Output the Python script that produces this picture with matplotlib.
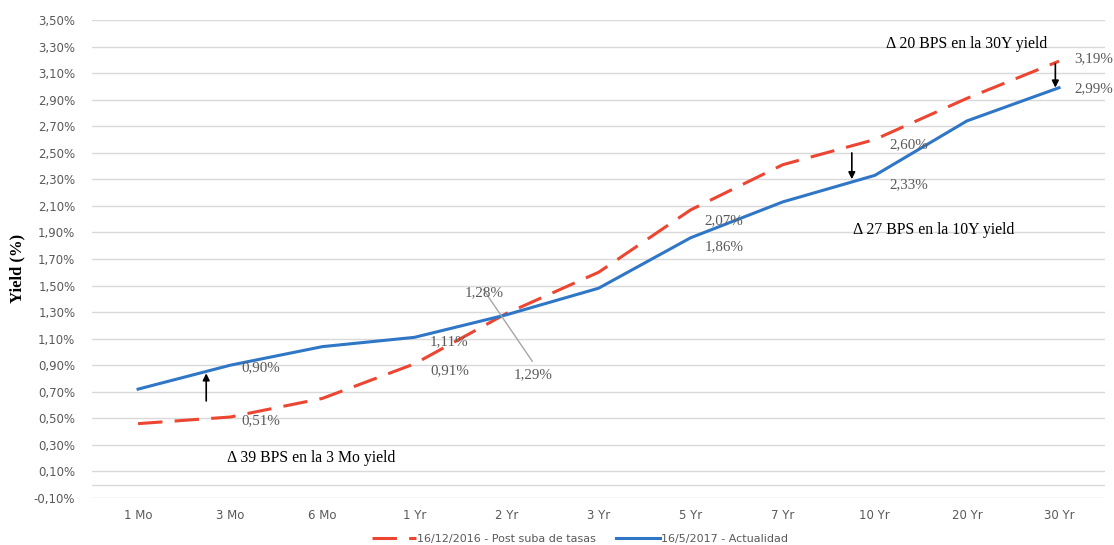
import matplotlib.pyplot as plt
from matplotlib.ticker import FuncFormatter

# Curva de rendimientos del Tesoro: dos fechas
plazos = ["1 Mo", "3 Mo", "6 Mo", "1 Yr", "2 Yr", "3 Yr", "5 Yr", "7 Yr", "10 Yr", "20 Yr", "30 Yr"]
post_suba = [0.46, 0.51, 0.65, 0.91, 1.29, 1.60, 2.07, 2.41, 2.60, 2.91, 3.19]
actualidad = [0.72, 0.90, 1.04, 1.11, 1.28, 1.48, 1.86, 2.13, 2.33, 2.74, 2.99]
serie_post = "16/12/2016 - Post suba de tasas"
serie_act = "16/5/2017 - Actualidad"

rojo = "#EC4632"
azul = "#2F77C6"
gris = "#595959"
serif = ["Liberation Serif"]


def pct(v):
    return f"{v:.2f}%".replace(".", ",")


fig = plt.figure(figsize=(11.14, 5.45), dpi=100)
ax = fig.add_axes([0.0826, 0.0862, 0.9094, 0.8771])

x = list(range(len(plazos)))
ax.plot(x, post_suba, color=rojo, lw=2.2, dashes=(8, 4), label=serie_post)
ax.plot(x, actualidad, color=azul, lw=2.2, label=serie_act)

ax.set_xlim(-0.5, 10.5)
ax.set_ylim(-0.1, 3.5)
ax.set_yticks([round(-0.1 + 0.2 * i, 2) for i in range(19)])
ax.yaxis.set_major_formatter(FuncFormatter(lambda v, p: pct(v)))
ax.set_xticks(x)
ax.set_xticklabels(plazos)
ax.grid(axis="y", color="#d9d9d9", lw=1)
ax.axhline(0, color="#d9d9d9", lw=1)
ax.set_axisbelow(True)
for s in ax.spines.values():
    s.set_visible(False)
ax.tick_params(axis="both", length=0, labelsize=8.5, labelcolor=gris)
ax.tick_params(axis="y", pad=12)
ax.tick_params(axis="x", pad=8)

ax.set_ylabel("Yield (%)", family=serif, fontsize=12, fontweight="bold")
ax.yaxis.set_label_coords(-0.066, 0.48)

# etiquetas de datos
etiquetas = [
    (1, actualidad[1], 0.12, -0.02), (1, post_suba[1], 0.12, -0.03),
    (3, actualidad[3], 0.17, -0.03), (3, post_suba[3], 0.17, -0.05),
    (6, post_suba[6], 0.15, -0.08), (6, actualidad[6], 0.15, -0.07),
    (8, post_suba[8], 0.16, -0.04), (8, actualidad[8], 0.16, -0.07),
    (10, post_suba[10], 0.17, 0.02), (10, actualidad[10], 0.17, -0.01),
]
for xi, v, dx, dy in etiquetas:
    ax.text(xi + dx, v + dy, pct(v), family=serif,
            fontsize=10.8, color=gris, ha="left", va="center")

# cruce en 2 Yr con línea guía
ax.text(3.55, actualidad[4] + 0.17, pct(actualidad[4]),
        family=serif, fontsize=10.8, color=gris, ha="left", va="center")
ax.text(4.08, post_suba[4] - 0.46, pct(post_suba[4]),
        family=serif, fontsize=10.8, color=gris, ha="left", va="center")
ax.plot([3.75, 4.28], [1.47, 0.93], color="#a6a6a6", lw=1)

# diferencias en puntos básicos
flecha = dict(arrowstyle="-|>", color="black", lw=1.2, mutation_scale=10)
ax.annotate("", xy=(0.74, 0.86), xytext=(0.74, 0.61), arrowprops=flecha)
ax.annotate("", xy=(7.75, 2.28), xytext=(7.75, 2.52), arrowprops=flecha)
ax.annotate("", xy=(9.96, 2.97), xytext=(9.96, 3.19), arrowprops=flecha)

ax.text(0.97, 0.20, "\u0394 39 BPS en la 3 Mo yield", family=serif, fontsize=11.3,
        ha="left", va="center")
ax.text(7.76, 1.92, "\u0394 27 BPS en la 10Y yield", family=serif, fontsize=11.3,
        ha="left", va="center")
ax.text(8.12, 3.32, "\u0394 20 BPS en la 30Y yield", family=serif, fontsize=11.3,
        ha="left", va="center")

fig.legend(loc="lower center", bbox_to_anchor=(0.521, -0.016), ncol=2, frameon=False,
           fontsize=8, labelcolor=gris, handlelength=3.9, columnspacing=1.8, handletextpad=0.15)

fig.savefig("out.png", dpi=100)
